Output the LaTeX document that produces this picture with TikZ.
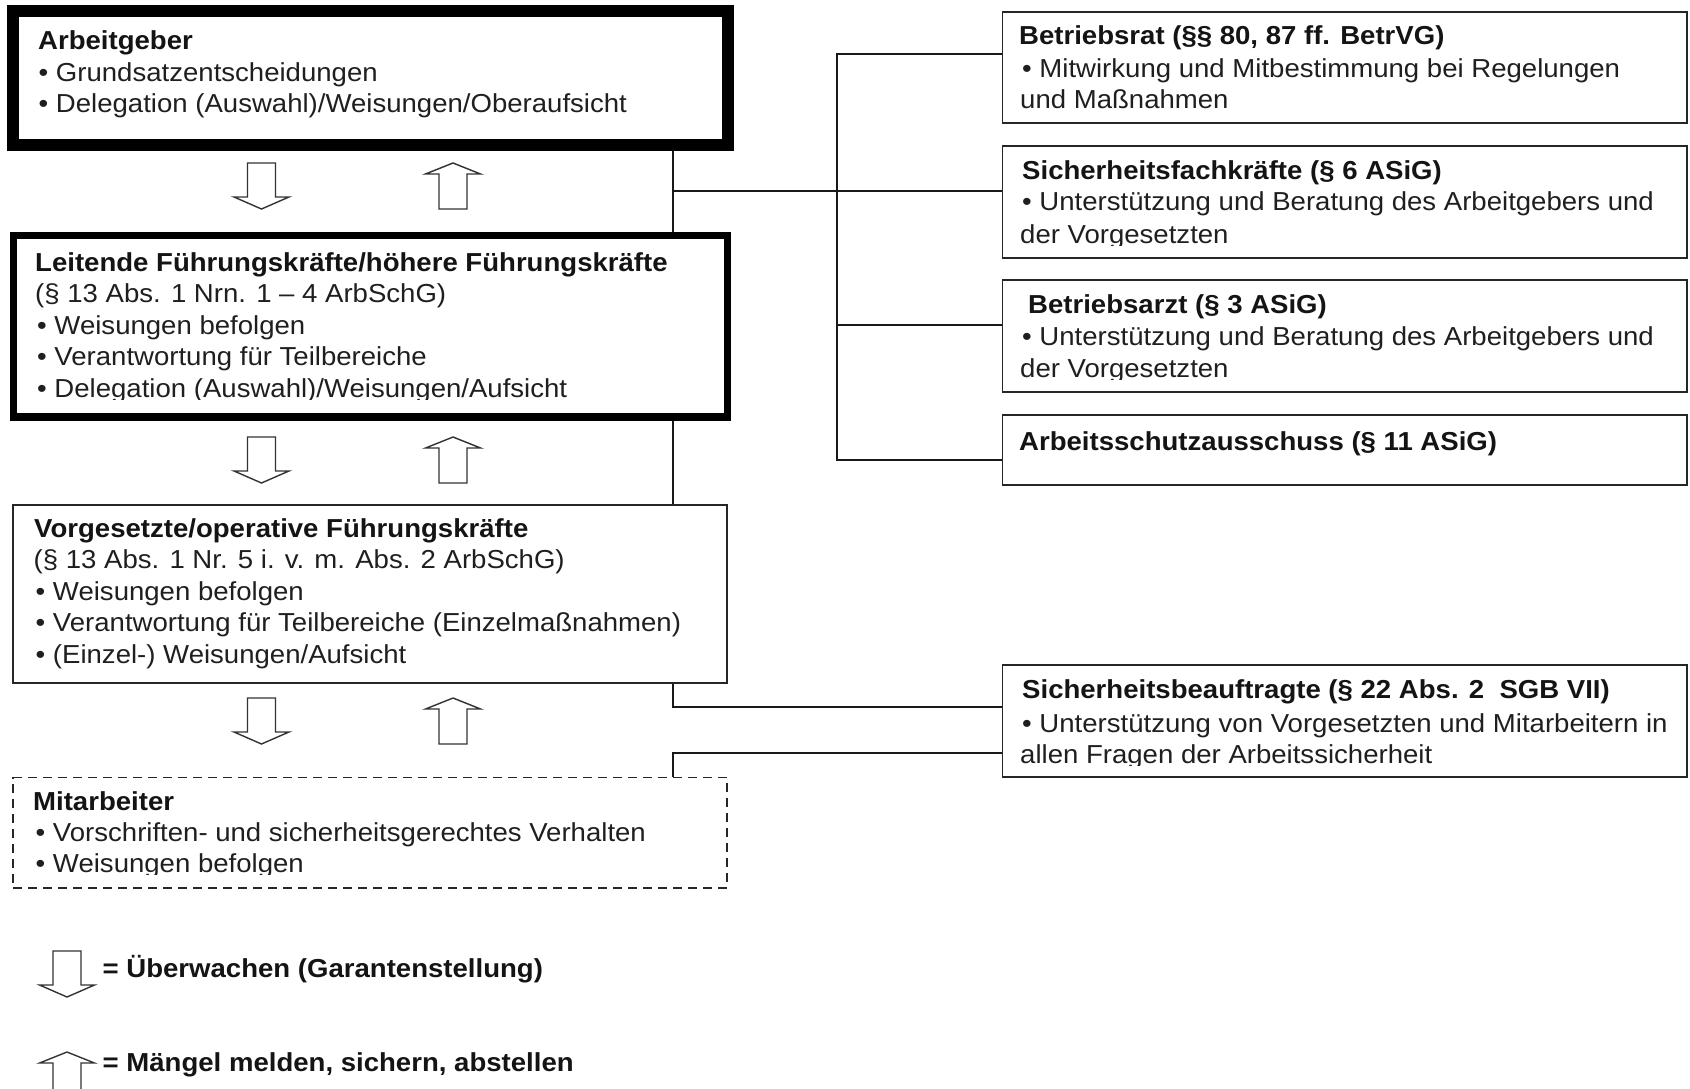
\documentclass[tikz,border=0pt]{standalone}
\usepackage{fontspec}
\setmainfont{Liberation Sans}[FakeStretch=1.06,Ligatures=CommonOff]
\usetikzlibrary{backgrounds}
\tikzset{
  txt/.style={anchor=base west, inner sep=0pt, font=\fontsize{26}{31.5}\selectfont, text=black!88},
  hd/.style={anchor=base west, inner sep=0pt, font=\fontsize{26}{31.5}\selectfont\bfseries, text=black!92},
  thickbox/.style={draw=black, line width=12pt, fill=white, inner sep=0pt},
  medbox/.style={draw=black, line width=7.5pt, fill=white, inner sep=0pt},
  thinbox/.style={draw=black!85, line width=1.8pt, fill=white, inner sep=0pt},
  dashbox/.style={thinbox, dash pattern=on 9pt off 6pt},
  conn/.style={draw=black!90, line width=1.6pt},
  blockarrow/.style={draw=black!80, line width=1.4pt, fill=white, line join=miter},
  dnarr/.pic={\draw[blockarrow] (-14,0) -- (-14,34) -- (-27.5,34) -- (0,46) -- (27.5,34) -- (14,34) -- (14,0) -- cycle;},
  uparr/.pic={\draw[blockarrow] (0,0) -- (27.5,11) -- (14,11) -- (14,46) -- (-14,46) -- (-14,11) -- (-27.5,11) -- cycle;}
}
\newcommand{\cutline}[4]{% name, x, baseline y, text  (descenders clipped as in the source)
  \begin{scope}\clip (#2-5,#3-40) rectangle (#2+700,#3+2);
  \node[txt] (#1) at (#2,#3) {#4};\end{scope}}
\begin{document}
\begin{tikzpicture}[x=1pt,y=-1pt]
\useasboundingbox (0,0) rectangle (1690,1089);
\begin{pgfonlayer}{background}
\fill[white] (0,0) rectangle (1690,1089);
\end{pgfonlayer}

% left column boxes
\node[thickbox, minimum width=714.5pt, minimum height=134pt] (ag) at (370.25,78) {};
\node[medbox, minimum width=714pt, minimum height=181.5pt] (lf) at (370.5,326.25) {};
\node[thinbox, minimum width=714pt, minimum height=178pt] (vo) at (370,594) {};
\node[dashbox, minimum width=714pt, minimum height=110.5pt] (ma) at (370,832.75) {};

% right column boxes
\node[thinbox, minimum width=684.5pt, minimum height=111pt] (br) at (1344.75,67.5) {};
\node[thinbox, minimum width=684.5pt, minimum height=112pt] (sf) at (1344.75,202) {};
\node[thinbox, minimum width=684.5pt, minimum height=112pt] (ba) at (1344.75,336) {};
\node[thinbox, minimum width=684.5pt, minimum height=70pt] (asa) at (1344.75,450) {};
\node[thinbox, minimum width=684.5pt, minimum height=112pt] (sb) at (1344.75,721) {};

% texts: Arbeitgeber
\node[hd] (t1) at (38,50) {Arbeitgeber};
\node[txt] (t2) at (38.5,82) {• Grundsatzentscheidungen};
\node[txt] (t3) at (38.5,113) {• Delegation (Auswahl)/Weisungen/Oberaufsicht};
% Leitende
\node[hd] (t4) at (35,271) {Leitende Führungskräfte/höhere Führungskräfte};
\node[txt] (t5) at (35,302.5) {(§ 13 Abs. 1 Nrn. 1 – 4 ArbSchG)};
\node[txt] (t6) at (37,334) {• Weisungen befolgen};
\node[txt] (t7) at (37,365.5) {• Verantwortung für Teilbereiche};
\cutline{t8}{37}{397}{• Delegation (Auswahl)/Weisungen/Aufsicht}
% Vorgesetzte
\node[hd] (t9) at (34,537) {Vorgesetzte/operative Führungskräfte};
\node[txt] (t10) at (33.5,568.5) {(§ 13 Abs. 1 Nr. 5 i. v. m. Abs. 2 ArbSchG)};
\node[txt] (t11) at (35.5,600) {• Weisungen befolgen};
\node[txt] (t12) at (35.5,631.5) {• Verantwortung für Teilbereiche (Einzelmaßnahmen)};
\node[txt] (t13) at (35.5,663) {• (Einzel-) Weisungen/Aufsicht};
% Mitarbeiter
\node[hd] (t14) at (33,810) {Mitarbeiter};
\node[txt] (t15) at (35.5,841) {• Vorschriften- und sicherheitsgerechtes Verhalten};
\cutline{t16}{35.5}{872}{• Weisungen befolgen}

% right texts
\node[hd] (r1) at (1019,45) {Betriebsrat (§§ 80, 87 ff. BetrVG)};
\node[txt] (r2) at (1022,78) {• Mitwirkung und Mitbestimmung bei Regelungen};
\node[txt] (r3) at (1020,109) {und Maßnahmen};
\node[hd] (r4) at (1022,179) {Sicherheitsfachkräfte (§ 6 ASiG)};
\node[txt] (r5) at (1022,211) {• Unterstützung und Beratung des Arbeitgebers und};
\cutline{r6}{1020}{243}{der Vorgesetzten}
\node[hd] (r7) at (1028,313) {Betriebsarzt (§ 3 ASiG)};
\node[txt] (r8) at (1022,345) {• Unterstützung und Beratung des Arbeitgebers und};
\cutline{r9}{1020}{377}{der Vorgesetzten}
\node[hd] (r10) at (1019,450) {Arbeitsschutzausschuss (§ 11 ASiG)};
\node[hd] (r11) at (1022,698) {Sicherheitsbeauftragte (§ 22 Abs. 2 \ SGB VII)};
\node[txt] (r12) at (1022,732) {• Unterstützung von Vorgesetzten und Mitarbeitern in};
\cutline{r13}{1020}{763}{allen Fragen der Arbeitssicherheit}

% block arrows between levels
\pic at (261.5,163) {dnarr};
\pic at (453,163) {uparr};
\pic at (261.5,437) {dnarr};
\pic at (453,437) {uparr};
\pic at (261.5,698) {dnarr};
\pic at (453,698) {uparr};

% legend
\pic at (67,951) {dnarr};
\pic at (67,1052) {uparr};
\node[hd] (l1) at (102.5,977) {= Überwachen (Garantenstellung)};
\node[hd] (l2) at (102.5,1071) {= Mängel melden, sichern, abstellen};

% connectors
\coordinate (jx) at (673,0);
\coordinate (b1) at (837,54);
\coordinate (b2) at (837,191);
\coordinate (b3) at (837,325);
\coordinate (b4) at (837,460);
\coordinate (c1) at (673,707);
\coordinate (c2) at (673,753);
\begin{pgfonlayer}{background}
\draw[conn] (ag.south -| jx) -- (vo.north -| jx);
\draw[conn] (jx |- b2) -- (b2 -| sf.west);
\draw[conn] (b1 -| br.west) -- (b1) -- (b4) -- (b4 -| asa.west);
\draw[conn] (b3) -- (b3 -| ba.west);
\draw[conn] (vo.south -| jx) -- (jx |- c1) -- (c1 -| sb.west);
\draw[conn] (ma.north -| jx) -- (jx |- c2) -- (c2 -| sb.west);
\end{pgfonlayer}
\end{tikzpicture}
\end{document}
